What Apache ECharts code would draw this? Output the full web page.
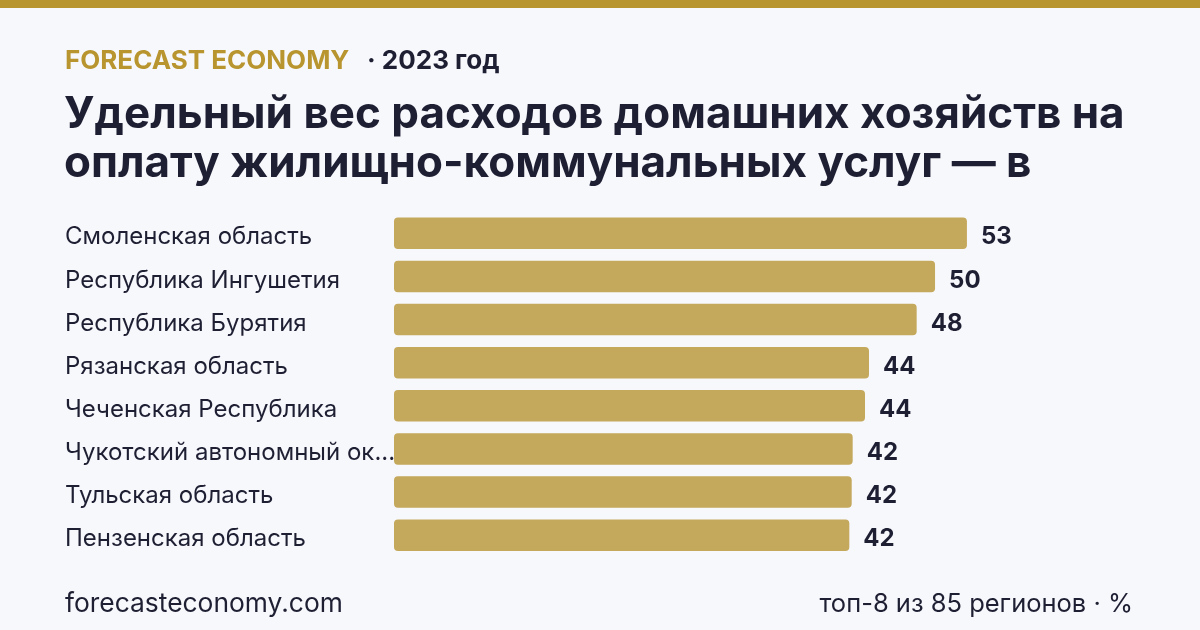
<!DOCTYPE html>
<html><head><meta charset="utf-8">
<script src="https://cdn.jsdelivr.net/npm/echarts@6/dist/echarts.min.js"></script>
<style>html,body{margin:0;padding:0;background:#f7f8fc;}#c{width:1200px;height:630px;}</style>
</head><body><div id="c"></div>
<script>
const categories = ["Смоленская область","Республика Ингушетия","Республика Бурятия","Рязанская область","Чеченская Республика","Чукотский автономный округ","Тульская область","Пензенская область"];
const values = [53.0, 50.05, 48.35, 43.94, 43.57, 42.43, 42.34, 42.12];
const brand = "FORECAST ECONOMY";
const yearText = "· 2023 год";
const titleLines = ["Удельный вес расходов домашних хозяйств на","оплату жилищно-коммунальных услуг — в"];
const footerLeft = "forecasteconomy.com";
const footerRight = "топ-8 из 85 регионов · %";

const FONT = "Inter, 'Noto Sans', sans-serif";
const DARK = "#1e1f33";
const GOLD = "#b8952f";
const LABEL_FONT = "400 24px " + FONT;
const LABEL_MAX = 334;
const ctx = document.createElement('canvas').getContext('2d');
ctx.font = LABEL_FONT;
function fit(s) {
  if (ctx.measureText(s).width <= LABEL_MAX) return s;
  let t = s;
  while (t.length > 1 && ctx.measureText(t + '...').width > LABEL_MAX) t = t.slice(0, -1);
  return t + '...';
}
const chart = echarts.init(document.getElementById('c'), null, {renderer:'canvas'});
chart.setOption({
  backgroundColor: '#f7f8fc',
  animation: false,
  graphic: [
    {type:'rect', shape:{x:0,y:0,width:1200,height:8}, style:{fill:GOLD}},
    {type:'text', x:65, y:61, style:{text:brand, font:"700 26px "+FONT, fill:GOLD, verticalAlign:'middle'}},
    {type:'text', x:367, y:61, style:{text:yearText, font:"700 26px "+FONT, fill:DARK, verticalAlign:'middle'}},
    {type:'text', x:64, y:115, style:{text:titleLines[0], font:"700 44px "+FONT, fill:DARK, verticalAlign:'middle'}},
    {type:'text', x:64, y:164, style:{text:titleLines[1], font:"700 44px "+FONT, fill:DARK, verticalAlign:'middle'}},
    {type:'text', x:65, y:604, style:{text:footerLeft, font:"400 26.4px "+FONT, fill:DARK, verticalAlign:'middle'}},
    {type:'text', x:1133, y:604, style:{text:footerRight, font:"400 25.5px "+FONT, fill:DARK, verticalAlign:'middle', align:'right'}}
  ],
  grid: {left:394, top:211.7, height:345, width:648.6, containLabel:false},
  xAxis: {type:'value', min:0, max:60, show:false},
  yAxis: {type:'category', data:categories, inverse:true,
    axisLine:{show:false}, axisTick:{show:false}, splitLine:{show:false},
    axisLabel:{align:'left', margin:329, formatter: v => '{a|' + fit(v) + '}',
      color:DARK, fontFamily:FONT, fontSize:24,
      rich:{a:{color:DARK, fontFamily:FONT, fontSize:24, padding:[8,0,0,0]}}}},
  series: [{type:'bar', data:values, barCategoryGap:'27%',
    itemStyle:{color:'#c4a85b', borderRadius:4},
    label:{show:true, position:'right', distance:14, offset:[0,4], color:DARK, fontFamily:FONT, fontWeight:700, fontSize:24,
      formatter: p => Math.round(p.value)}}]
});
</script></body></html>
